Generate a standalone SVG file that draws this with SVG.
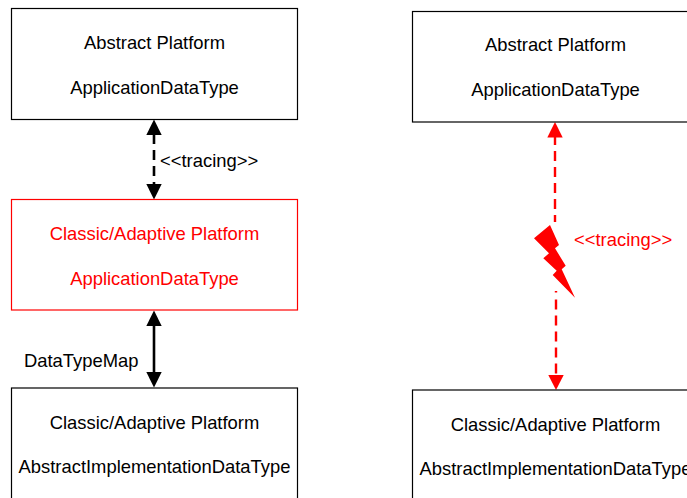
<svg xmlns="http://www.w3.org/2000/svg" width="687" height="498" viewBox="0 0 687 498">
<defs>
<style>
text{font-family:"Liberation Sans",Arial,sans-serif;font-size:18.4px;fill:#000}
.c{text-anchor:middle}
.r{fill:#f00}
.box{fill:#fff;stroke:#000;stroke-width:1.2}
.rbox{fill:#fff;stroke:#f00;stroke-width:1.2}
.k{stroke:#000;stroke-width:2.6;fill:none}
.rl{stroke:#f00;stroke-width:2.4;fill:none}
</style>
</defs>
<rect width="687" height="498" fill="#fff"/>
<g id="connectors">
<line class="k" x1="154" y1="134" x2="154" y2="185" stroke-dasharray="10 6"/>
<polygon points="154,119.500 146.300,135 161.700,135"/>
<polygon points="154,199.500 146.300,184 161.700,184"/>
<line class="k" x1="154" y1="325" x2="154" y2="373"/>
<polygon points="154,310.500 146.300,326 161.700,326"/>
<polygon points="154,387.500 146.300,372 161.700,372"/>
<line class="rl" x1="555" y1="135" x2="555" y2="222" stroke-dasharray="10 6"/>
<line class="rl" x1="556" y1="291" x2="556" y2="376" stroke-dasharray="1.500 7 10 6 10 6 10 6 10 6 10 6"/>
<polygon points="555,122 547.300,137.500 562.700,137.500" fill="#f00"/>
<polygon points="556,390 548.300,375 563.700,375" fill="#f00"/>
<polygon points="550,225 559,245 555,248.300 565.700,265.700 561.700,269.300 575,297.700 552.700,275 556.700,270.700 543.300,258.300 549,253.300 534,238.300" fill="#f00"/>
<text class="r" x="574" y="246">&lt;&lt;tracing&gt;&gt;</text>
<text x="160" y="167">&lt;&lt;tracing&gt;&gt;</text>
<text x="24" y="367">DataTypeMap</text>
</g>
<g id="node-abstract-left">
<rect class="box" x="11.500" y="8.500" width="286" height="111"/>
<text class="c" x="154.500" y="49">Abstract Platform</text>
<text class="c" x="154.500" y="94">ApplicationDataType</text>
</g>
<g id="node-classic-left">
<rect class="rbox" x="11.500" y="199.500" width="286" height="110.500"/>
<text class="c r" x="154.500" y="240">Classic/Adaptive Platform</text>
<text class="c r" x="154.500" y="285">ApplicationDataType</text>
</g>
<g id="node-impl-left">
<rect class="box" x="11.500" y="388" width="286" height="111"/>
<text class="c" x="154.500" y="429">Classic/Adaptive Platform</text>
<text class="c" x="154.500" y="473">AbstractImplementationDataType</text>
</g>
<g id="node-abstract-right">
<rect class="box" x="412.500" y="11.500" width="286" height="110.500"/>
<text class="c" x="555.500" y="51">Abstract Platform</text>
<text class="c" x="555.500" y="96">ApplicationDataType</text>
</g>
<g id="node-impl-right">
<rect class="box" x="412.500" y="390" width="286" height="111"/>
<text class="c" x="555.500" y="431">Classic/Adaptive Platform</text>
<text class="c" x="555.500" y="475">AbstractImplementationDataType</text>
</g>
</svg>
